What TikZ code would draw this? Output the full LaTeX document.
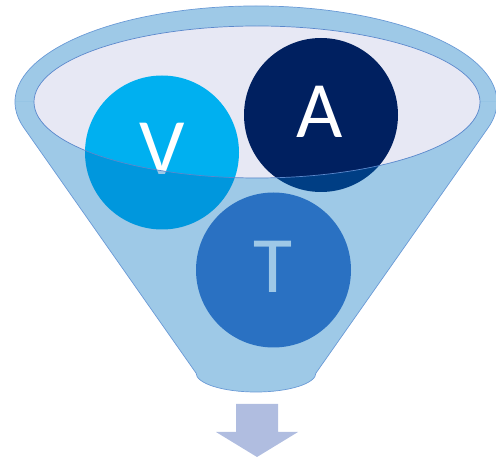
\documentclass[tikz,border=0pt]{standalone}
\usepackage{fontspec}
\setmainfont{Carlito}
\definecolor{funnelblue}{HTML}{0070C0}
\definecolor{rimline}{HTML}{6A9AD6}
\definecolor{innerfill}{HTML}{E7E8F4}
\definecolor{innerline}{HTML}{5B88CC}
\definecolor{vcol}{HTML}{00B0F0}
\definecolor{acol}{HTML}{002060}
\definecolor{tcol}{HTML}{4472C4}
\definecolor{arrowcol}{HTML}{B0BDE0}
\begin{document}
\begin{tikzpicture}[x=1pt,y=1pt,
  glass/.style={fill=funnelblue,fill opacity=0.38},
  ball/.style={circle,inner sep=0pt},
  letter/.style={text=white,font=\fontsize{80}{80}\selectfont,inner sep=0pt,anchor=base}]
\useasboundingbox (0,0) rectangle (496,461);
% back rim of the funnel
\fill[glass] (497,359) arc[start angle=0,end angle=180,x radius=241,y radius=96] -- cycle;
% inside surface
\fill[innerfill] (257,359) ellipse[x radius=223,y radius=76];
% balls
\node[ball,fill=vcol,minimum size=154pt] (V) at (162,308.5) {};
\node[ball,fill=acol,minimum size=154pt] (A) at (321,346) {};
\node[ball,fill=tcol,minimum size=155pt] (T) at (273.5,191) {};
\node[letter] (Vl) at (162,286) {V};
\node[letter] (Al) at (320,323) {A};
\node[letter] (Tl) at (273,168) {T};
% front of the funnel
\fill[glass] (34,359) arc[start angle=180,end angle=360,x radius=223,y radius=76]
  -- (497,359) arc[start angle=0,end angle=-15.6,x radius=241,y radius=96]
  -- (316,88) arc[start angle=0,end angle=-180,x radius=60,y radius=19]
  -- (23.9,333.2) arc[start angle=195.6,end angle=180,x radius=241,y radius=96] -- cycle;
% outlines
\draw[rimline,line width=0.7pt] (23.9,333.2) arc[start angle=195.6,end angle=-15.6,x radius=241,y radius=96]
  -- (316,88) arc[start angle=0,end angle=-180,x radius=60,y radius=19] -- cycle;
\draw[innerline,line width=0.7pt] (257,359) ellipse[x radius=223,y radius=76];
% down arrow
\fill[arrowcol] (236,57) -- (278,57) -- (278,29) -- (298,29) -- (257,4) -- (216,29) -- (236,29) -- cycle;
\end{tikzpicture}
\end{document}
